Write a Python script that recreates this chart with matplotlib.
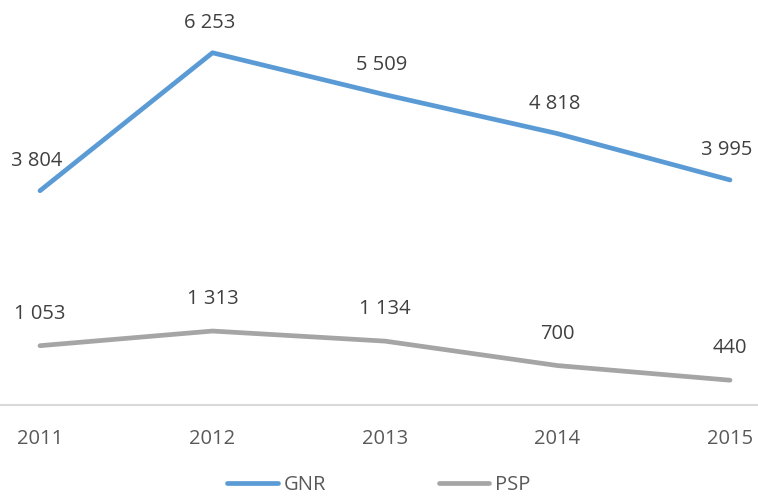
import matplotlib.pyplot as plt

# data
years = [2011, 2012, 2013, 2014, 2015]
gnr = [3804, 6253, 5509, 4818, 3995]
psp = [1053, 1313, 1134, 700, 440]
labels_gnr = ["3 804", "6 253", "5 509", "4 818", "3 995"]
labels_psp = ["1 053", "1 313", "1 134", "700", "440"]

plt.rcParams['font.family'] = ['Open Sans', 'DejaVu Sans']

fig = plt.figure(figsize=(7.58, 4.98), dpi=100)
ax = fig.add_axes([0, 93 / 498, 1, 405 / 498])

ax.plot(years, gnr, color='#5B9BD5', lw=3.4, solid_capstyle='round', label='GNR')
ax.plot(years, psp, color='#A5A5A5', lw=3.4, solid_capstyle='round', label='PSP')

for x, y, t in zip(years, gnr, labels_gnr):
    ax.annotate(t, (x, y), xytext=(-3, 30), textcoords='offset pixels',
                ha='center', va='center', fontsize=14.5, color='#404040')
for x, y, t in zip(years, psp, labels_psp):
    ax.annotate(t, (x, y), xytext=(0, 32), textcoords='offset pixels',
                ha='center', va='center', fontsize=14.5, color='#404040')

ax.set_xlim(2011 - 40 / 172.5, 2015 + 28 / 172.5)
ax.set_ylim(0, 7190)
ax.set_xticks(years)
ax.set_xticklabels([str(y) for y in years])
ax.tick_params(axis='x', length=0, pad=17.5, labelsize=14.5, labelcolor='#595959')
ax.set_yticks([])
for s in ['top', 'right', 'left']:
    ax.spines[s].set_visible(False)
ax.spines['bottom'].set_color('#D9D9D9')
ax.spines['bottom'].set_linewidth(1.5)

fig.legend(loc='lower center', ncol=2, frameon=False, fontsize=14.5,
           handlelength=2.5, columnspacing=5.6, handletextpad=0.3,
           bbox_to_anchor=(0.5, -0.03), labelcolor='#595959')

fig.savefig('out.png', dpi=100)
